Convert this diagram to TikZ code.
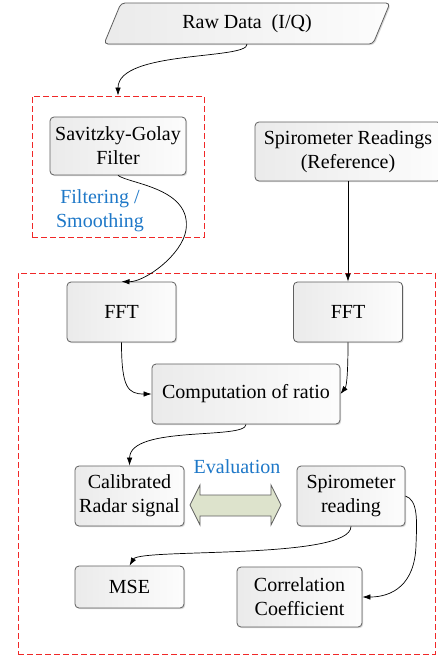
\documentclass[tikz,border=0pt]{standalone}
\usepackage{fontspec}
\setmainfont{Liberation Serif}
\usetikzlibrary{arrows.meta,shadows}
\definecolor{bordergray}{RGB}{95,95,95}
\definecolor{dashred}{RGB}{240,40,40}
\definecolor{txtblue}{RGB}{30,120,200}
\definecolor{arrowgreen}{RGB}{221,227,204}
\begin{document}
\begin{tikzpicture}[x=1pt,y=-1pt,
  box/.style={draw=bordergray, line width=0.8pt, rounded corners=4pt,
    left color=black!8, right color=black!1,
    drop shadow={shadow xshift=1.2pt, shadow yshift=-1.2pt, fill=black!30, opacity=0.5},
    align=center, font=\fontsize{20}{24}\selectfont, inner sep=0pt},
  region/.style={draw=dashred, dashed, dash pattern=on 6pt off 3pt, line width=0.9pt, inner sep=0pt},
  bluetxt/.style={text=txtblue, align=center, font=\fontsize{20}{24}\selectfont, inner sep=0pt},
  conn/.style={-{Latex[length=8pt,width=5.5pt]}, line width=0.7pt, black}
]
\fill[white] (0,0) rectangle (438,657);
\useasboundingbox (0,0) rectangle (438,657);

% dashed regions
\node[region, minimum width=172pt, minimum height=141pt] (sgbox) at (118,166.5) {};
\node[region, minimum width=417pt, minimum height=381pt] (bigbox) at (226.5,463.5) {};

% raw data parallelogram
\fill[black!30, opacity=0.5, rounded corners=4pt, xshift=1.2pt, yshift=-1.2pt]
  (121,3) -- (390,3) -- (373,44) -- (104,44) -- cycle;
\draw[draw=bordergray, line width=0.8pt, rounded corners=4pt, left color=black!8, right color=black!1]
  (121,3) -- (390,3) -- (373,44) -- (104,44) -- cycle;
\node[inner sep=0pt, minimum height=41pt, font=\fontsize{20}{24}\selectfont] (raw) at (247,23.5) {Raw Data\ \ (I/Q)};

% boxes
\node[box, minimum width=136pt, minimum height=58pt] (sg) at (118,146) {Savitzky-Golay\\Filter};
\node[box, minimum width=186pt, minimum height=59pt] (spiro) at (348,151.5) {Spirometer Readings\\(Reference)};
\node[box, minimum width=109pt, minimum height=60pt] (fft1) at (121.5,312) {FFT};
\node[box, minimum width=109pt, minimum height=60pt] (fft2) at (348,312) {FFT};
\node[box, minimum width=188pt, minimum height=60pt] (comp) at (246,394) {Computation of ratio};
\node[box, minimum width=109pt, minimum height=60pt] (cal) at (129.5,496) {Calibrated\\Radar signal};
\node[box, minimum width=108pt, minimum height=60pt] (spr) at (351,496) {Spirometer\\reading};
\node[box, minimum width=109pt, minimum height=42pt] (mse) at (129.5,587) {MSE};
\node[box, minimum width=125pt, minimum height=60pt] (corr) at (299.5,597) {Correlation\\Coefficient};

% labels
\node[bluetxt] (filt) at (100,211) {Filtering /\\Smoothing};
\node[bluetxt] (eval) at (237,467) {Evaluation};

% double arrow
\draw[draw=bordergray, fill=arrowgreen, line width=0.8pt]
  (190,505) -- (200,485) -- (200,495) -- (271,495) -- (271,485) -- (281,505)
  -- (271,525) -- (271,516) -- (200,516) -- (200,525) -- cycle;

% connectors
\draw[conn] (raw.south) .. controls (248,60) and (118,50) .. (sgbox.north);
\draw[conn] (sg.south) .. controls (130,184) and (192,188) .. (186,230)
  .. controls (182,255) and (145,282) .. (fft1.north);
\draw[conn] (spiro.south) -- (fft2.north);
\draw[conn] (fft1.south) .. controls (121.5,388) and (128,394) .. (comp.west);
\draw[conn] (fft2.south) .. controls (348,380) and (346,387) .. (comp.east);
\draw[conn] (comp.south) .. controls (246,440) and (130,425) .. (cal.north);
\draw[conn] (spr.south) .. controls (351,560) and (140,548) .. (mse.north);
\draw[conn] (spr.east) .. controls (418,500) and (417,520) .. (416,545)
  .. controls (415,585) and (392,597) .. (corr.east);
\end{tikzpicture}
\end{document}
